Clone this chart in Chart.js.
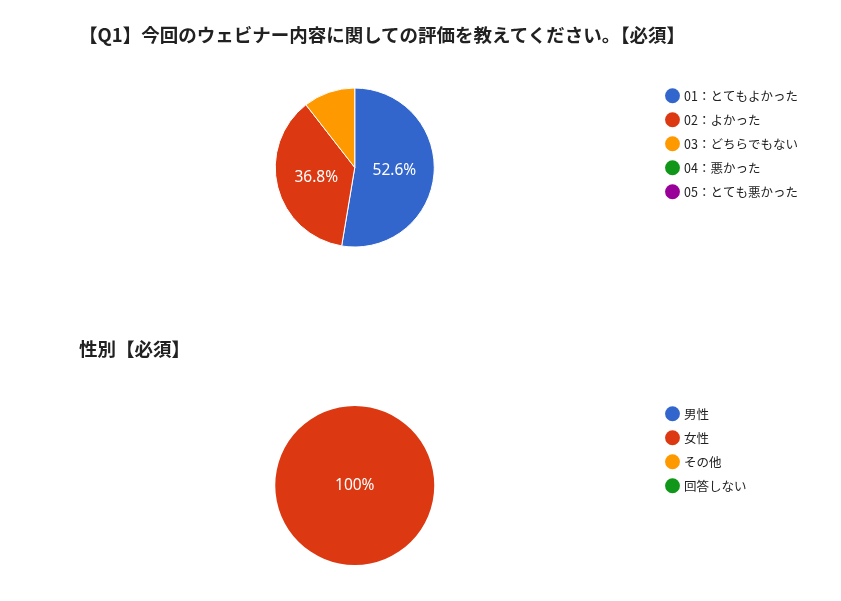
<!DOCTYPE html>
<html>
<head>
<meta charset="utf-8">
<script src="https://cdn.jsdelivr.net/npm/chart.js@4.4.1/dist/chart.umd.min.js"></script>
<style>
body { margin: 0; background: #fff; width: 841px; height: 601px; position: relative; overflow: hidden; }
.box { position: absolute; left: 0; width: 841px; height: 318px; }
.ttl { position: absolute; left: 79px; font: bold 18.5px "Noto Sans CJK JP"; color: #212121; white-space: nowrap; line-height: 20px; }
</style>
</head>
<body>
<div class="box" style="top:0"><canvas id="c1"></canvas></div>
<div class="box" style="top:318px"><canvas id="c2"></canvas></div>
<div class="ttl" id="t1" style="top:24px"></div>
<div class="ttl" id="t2" style="top:338px"></div>
<script>
// survey results (response counts)
var q1Title = "【Q1】今回のウェビナー内容に関しての評価を教えてください。【必須】";
var q1Labels = ["01：とてもよかった", "02：よかった", "03：どちらでもない", "04：悪かった", "05：とても悪かった"];
var q1Counts = [10, 7, 2, 0, 0];

var sexTitle = "性別【必須】";
var sexLabels = ["男性", "女性", "その他", "回答しない"];
var sexCounts = [0, 19, 0, 0];

var sliceColors = ["#3366cc", "#dc3912", "#ff9900", "#109618", "#990099"];

var legendFont = '12.5px "Noto Sans CJK JP"';

function sum(arr) {
    return arr.reduce(function(a, b) { return a + b; }, 0);
}

// percentage text inside the bigger slices
var sliceText = {
    id: "sliceText",
    afterDatasetsDraw: function(chart) {
        var ctx = chart.ctx;
        var vals = chart.data.datasets[0].data;
        var total = sum(vals);
        ctx.save();
        ctx.font = '15.5px "Noto Sans"';
        ctx.fillStyle = "#fff";
        ctx.textAlign = "center";
        ctx.textBaseline = "middle";
        chart.getDatasetMeta(0).data.forEach(function(arc, i) {
            var pct = vals[i] / total * 100;
            if (pct < 15) return;
            var p = pct >= 100 ? {x: arc.x, y: arc.y} : arc.tooltipPosition();
            ctx.fillText(pct.toFixed(1).replace(/\.0$/, "") + "%", p.x, p.y);
        });
        ctx.restore();
    }
};

// keep the legend at the same x whatever the label widths
function padRight(labels) {
    var ctx = document.createElement("canvas").getContext("2d");
    ctx.font = legendFont;
    var w = Math.max.apply(null, labels.map(function(t) { return ctx.measureText(t).width; }));
    return 841 - 655.75 - (w + 38.25);
}

function makePie(id, labels, counts) {
    var total = sum(counts);
    return new Chart(document.getElementById(id), {
        type: "pie",
        data: {
            labels: labels,
            datasets: [{
                data: counts,
                backgroundColor: sliceColors.slice(0, labels.length),
                borderColor: "#fff",
                // no separator line for empty or full slices
                borderWidth: function(c) { return (c.raw === 0 || c.raw === total) ? 0 : 1; }
            }]
        },
        options: {
            responsive: true,
            maintainAspectRatio: false,
            animation: false,
            radius: 79.5,
            layout: { padding: { left: 53.75, right: padRight(labels), top: 78, bottom: 61 } },
            plugins: {
                tooltip: { enabled: false },
                legend: {
                    position: "right",
                    align: "start",
                    labels: {
                        usePointStyle: true,
                        pointStyle: "circle",
                        boxWidth: 10.5,
                        boxHeight: 10.5,
                        padding: 11.5,
                        color: "#222",
                        font: { family: "Noto Sans CJK JP", size: 12.5 },
                        generateLabels: function(chart) {
                            return Chart.DoughnutController.overrides.plugins.legend.labels.generateLabels(chart)
                                .map(function(l) { l.lineWidth = 0; return l; });
                        }
                    }
                }
            }
        },
        plugins: [sliceText]
    });
}

document.getElementById("t1").textContent = q1Title;
document.getElementById("t2").textContent = sexTitle;
makePie("c1", q1Labels, q1Counts);
makePie("c2", sexLabels, sexCounts);
</script>
</body>
</html>
